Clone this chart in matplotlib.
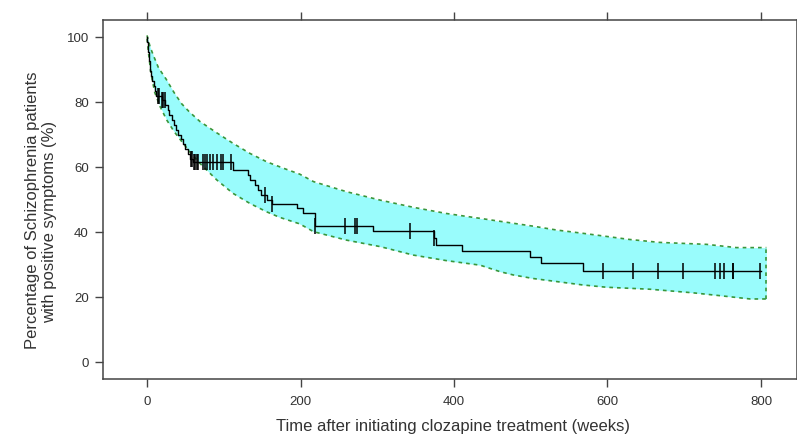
import numpy as np
import matplotlib
matplotlib.use("Agg")
import matplotlib.pyplot as plt

plt.rcParams['font.family'] = ['Liberation Sans', 'DejaVu Sans']

# Kaplan-Meier step data (weeks, % with positive symptoms after event)
event_weeks = [0.5, 1, 1.5, 2, 2.5, 3.5, 4.5, 5.5, 7, 8.5, 10, 12, 19, 24, 27, 29, 32, 35,
               38, 41, 44, 47, 50, 53, 56, 60, 112, 132, 134, 141, 145, 149, 156, 162.5,
               195, 203, 219, 295, 374, 377, 410, 499, 513, 568]
event_surv = [98.5, 97, 95.5, 94, 92.5, 91, 89.5, 88, 86.5, 85, 83.5, 82, 80.5, 79, 77.5,
              76, 74.5, 73, 71.5, 70, 68.5, 67, 65.5, 64, 62.5, 61.6, 59.1, 57.5, 56, 54.5,
              52.9, 51.4, 49.8, 48.6, 47.3, 45.7, 41.8, 40.4, 38.1, 36.0, 34.3, 32.2, 30.4, 28.0]
censor_weeks = [14, 16, 19, 21, 23, 57, 59, 61, 63, 65, 67, 72.5, 75.6, 77.7, 82, 86.4,
                90.7, 97, 99.5, 110, 153.7, 162.5, 219, 258, 271, 274, 343, 374, 594,
                633, 666, 698, 740, 747, 752, 763, 764, 799]
end_week = 800

# Confidence band
ci_up_weeks = [0, 4, 8, 15, 25, 35, 45, 55, 69, 91, 112, 134, 156, 178, 199, 217, 260, 304,
               347, 390, 434, 477, 503, 534, 568, 629, 668, 729, 768, 807]
ci_upper = [100.5, 97, 94.5, 90.5, 87, 83, 79.5, 77, 74, 70.5, 67.3, 64.2, 61.6, 59.6, 57.8,
            55.5, 52.4, 49.8, 47.6, 45.7, 44.2, 42.7, 41.8, 40.6, 39.6, 37.7, 36.8, 36.2,
            35.2, 35.2]
ci_lo_weeks = [0, 2, 5, 10, 17, 25.6, 35, 47, 58, 69, 91, 112, 134, 156, 173, 199, 217, 260,
               304, 347, 390, 434, 460, 477, 503, 568, 599, 655, 711, 747, 786, 807]
ci_lower = [99.5, 95, 89, 83, 78.6, 74.5, 71, 67.3, 64, 61.1, 56, 51.9, 48.8, 46.2, 44.5,
            42.5, 40.1, 37.5, 35.5, 32.9, 31.2, 29.8, 27.8, 26.8, 25.7, 23.7, 23.0, 22.4,
            21.3, 20.4, 19.4, 19.4]

xticks = [0, 200, 400, 600, 800]
yticks = [0, 20, 40, 60, 80, 100]

xlabel = 'Time after initiating clozapine treatment (weeks)'
ylabel_lines = ['Percentage of Schizophrenia patients', 'with positive symptoms (%)']

txt = '#333333'
spc = '#444444'

W, H = 797, 434
fig = plt.figure(figsize=(W / 100, H / 100), dpi=100)
ax = fig.add_axes([0.1289, 0.1267, 0.8705, 0.8272])

# band
grid = np.linspace(0, 807, 600)
up = np.interp(grid, ci_up_weeks, ci_upper)
lo = np.interp(grid, ci_lo_weeks, ci_lower)
ax.fill_between(grid, lo, up, color='#99fcfc', lw=0, zorder=1)
green = '#3a963a'
ds = (0, (2.2, 2.4))
ax.plot(ci_up_weeks, ci_upper, color=green, lw=1.2, ls=ds, zorder=2)
ax.plot(ci_lo_weeks, ci_lower, color=green, lw=1.2, ls=ds, zorder=2)
ax.plot([807, 807], [ci_lower[-1], ci_upper[-1]], color=green, lw=1.2, ls=ds, zorder=2)

# KM curve
t = np.array([0] + event_weeks + [end_week])
s = np.array([100] + event_surv + [event_surv[-1]])
ax.step(t, s, where='post', color='black', lw=1.0, zorder=3)
cw = np.array(censor_weeks)
idx = np.searchsorted(t, cw, side='right') - 1
ax.plot(cw, s[idx], ls='none', marker='|', color='black', ms=11.5, mew=1.1, zorder=4)

ax.set_xlim(-57.7, 846.3)
ax.set_ylim(-5.23, 105.23)
ax.set_xticks(xticks)
ax.set_yticks(yticks)
ax.tick_params(axis='both', direction='out', length=6, width=1, color=spc,
               labelcolor=txt, labelsize=9.5)
ax.tick_params(axis='x', top=True, labeltop=False, pad=6)
ax.tick_params(axis='y', pad=4)
for sp in ax.spines.values():
    sp.set_color(spc)
    sp.set_linewidth(1.1)

# axis titles placed in pixel positions
fig.text(453 / W, 1 - 426.5 / H, xlabel, fontsize=12, color=txt,
         ha='center', va='center')
fig.text(33 / W, 1 - 210 / H, ylabel_lines[0], fontsize=12, color=txt,
         ha='center', va='center', rotation=90)
fig.text(49.5 / W, 1 - 222 / H, ylabel_lines[1], fontsize=12, color=txt,
         ha='center', va='center', rotation=90)

fig.savefig('out.png', dpi=100)
